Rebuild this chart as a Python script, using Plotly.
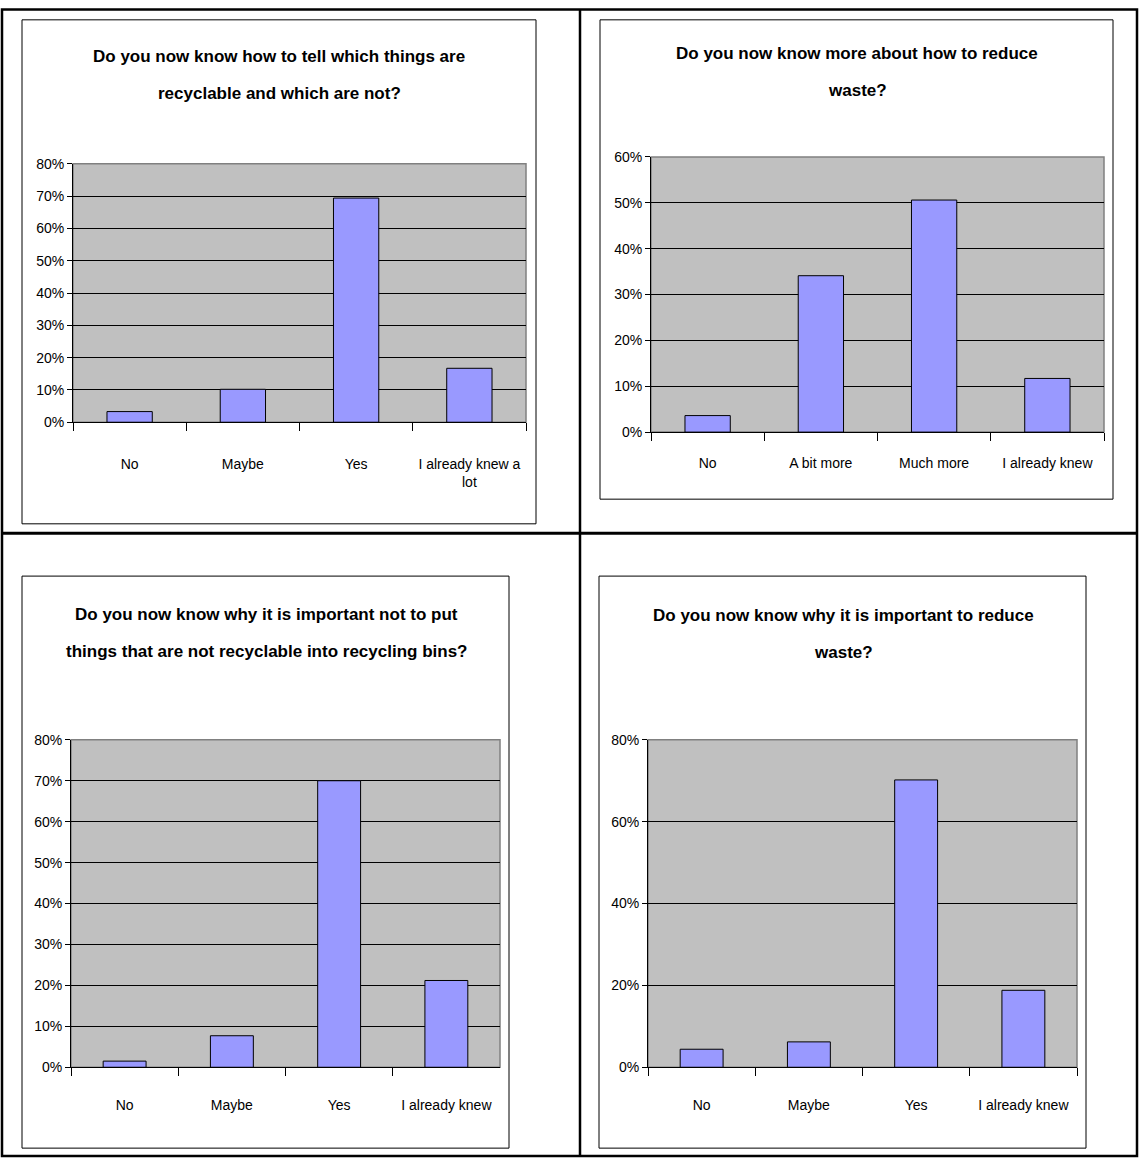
import plotly.graph_objects as go

# ---- data ----
title_1 = ["Do you now know how to tell which things are", "recyclable and which are not?"]
cats_1 = ["No", "Maybe", "Yes", "I already knew a<br>lot"]
vals_1 = [3.3, 10.2, 69.4, 16.7]

title_2 = ["Do you now know more about how to reduce", "waste?"]
cats_2 = ["No", "A bit more", "Much more", "I already knew"]
vals_2 = [3.6, 34.1, 50.6, 11.7]

title_3 = ["Do you now know why it is important not to put", "things that are not recyclable into recycling bins?"]
cats_3 = ["No", "Maybe", "Yes", "I already knew"]
vals_3 = [1.5, 7.7, 70.0, 21.2]

title_4 = ["Do you now know why it is important to reduce", "waste?"]
cats_4 = ["No", "Maybe", "Yes", "I already knew"]
vals_4 = [4.4, 6.2, 70.2, 18.8]

y_max = [80, 60, 80, 80]
y_step = [10, 10, 10, 20]

W, H = 1140, 1166
FONT = "Liberation Sans, Arial, sans-serif"

def px(x):
    return x / W

def py(y):
    return 1 - y / H

# pixel layout: chart box, plot area, title centre x, title line y's, label standoff
panels = [
    dict(box=(22, 12, 536, 523), plot=(73, 158, 526, 420), tx=279, ty=(49, 87), so=29),
    dict(box=(600, 12, 1113, 498), plot=(651, 151, 1104, 430), tx=857, ty=(46, 84), so=18),
    dict(box=(22, 576, 509, 1156), plot=(71, 742, 500, 1074), tx=266, ty=(615, 652), so=25),
    dict(box=(599, 576, 1086, 1156), plot=(648, 742, 1077, 1074), tx=843, ty=(616, 653), so=25),
]
titles = [title_1, title_2, title_3, title_4]
cats = [cats_1, cats_2, cats_3, cats_4]
vals = [vals_1, vals_2, vals_3, vals_4]

fig = go.Figure()
shapes = []
annotations = []
layout_axes = {}

for i, p in enumerate(panels):
    n = i + 1
    xa = "x" if n == 1 else f"x{n}"
    ya = "y" if n == 1 else f"y{n}"
    fig.add_trace(go.Bar(
        x=cats[i], y=vals[i], xaxis=xa, yaxis=ya,
        marker=dict(color="#9999FF", line=dict(color="black", width=1)),
        showlegend=False, hoverinfo="skip",
    ))
    x0, y0, x1, y1 = p["plot"]
    xkey = "xaxis" if n == 1 else f"xaxis{n}"
    ykey = "yaxis" if n == 1 else f"yaxis{n}"
    layout_axes[xkey] = dict(
        domain=[px(x0), px(x1)], anchor=ya, type="category",
        showline=True, linecolor="black", linewidth=1,
        ticks="outside", tickson="boundaries", ticklen=8, tickcolor="black",
        ticklabelstandoff=p["so"],
        showgrid=False, tickfont=dict(family=FONT, size=14, color="black"),
        fixedrange=True,
    )
    layout_axes[ykey] = dict(
        domain=[py(y1), py(y0)], anchor=xa, range=[0, y_max[i]],
        dtick=y_step[i], tick0=0, ticksuffix="%",
        showline=True, linecolor="black", linewidth=1,
        ticks="outside", ticklen=5, tickcolor="black",
        showgrid=True, gridcolor="black", gridwidth=1,
        zeroline=False, tickfont=dict(family=FONT, size=14, color="black"),
        fixedrange=True,
    )
    # plot area background with grey border
    shapes.append(dict(type="rect", xref="paper", yref="paper",
                       x0=px(x0), x1=px(x1), y0=py(y1), y1=py(y0),
                       fillcolor="#C0C0C0", line=dict(color="#808080", width=1.5),
                       layer="below"))
    # chart box
    bx0, by0, bx1, by1 = p["box"]
    shapes.append(dict(type="rect", xref="paper", yref="paper",
                       x0=px(bx0), x1=px(bx1), y0=py(by1), y1=py(by0),
                       line=dict(color="black", width=1), layer="below"))
    for line_text, ly in zip(titles[i], p["ty"]):
        annotations.append(dict(
            text="<b>" + line_text + "</b>", xref="paper", yref="paper",
            x=px(p["tx"]), y=py(ly), xanchor="center", yanchor="middle",
            showarrow=False, align="center",
            font=dict(family=FONT, size=17, color="black"),
        ))

# table lines
shapes.append(dict(type="rect", xref="paper", yref="paper",
                   x0=px(2), x1=px(1137), y0=py(1164), y1=py(1.5),
                   line=dict(color="black", width=2.5)))
shapes.append(dict(type="line", xref="paper", yref="paper",
                   x0=px(580), x1=px(580), y0=py(1164), y1=py(1.5),
                   line=dict(color="black", width=2.5)))
shapes.append(dict(type="line", xref="paper", yref="paper",
                   x0=px(2), x1=px(1137), y0=py(532.5), y1=py(532.5),
                   line=dict(color="black", width=3)))

fig.update_layout(
    width=W, height=H, margin=dict(l=0, r=0, t=0, b=0, pad=0),
    paper_bgcolor="white", plot_bgcolor="rgba(0,0,0,0)",
    bargap=0.6, shapes=shapes, annotations=annotations,
    font=dict(family=FONT, color="black"),
    **layout_axes,
)

post = (
    "document.documentElement.style.margin='0';"
    "document.body.style.margin='0';document.body.style.padding='0';"
    "document.body.style.overflow='hidden';"
    "var d=document.getElementById('{plot_id}');"
    "d.style.position='absolute';d.style.left='0px';d.style.top='0px';"
)
fig.write_html("out.html", post_script=post, config={"displayModeBar": False})
